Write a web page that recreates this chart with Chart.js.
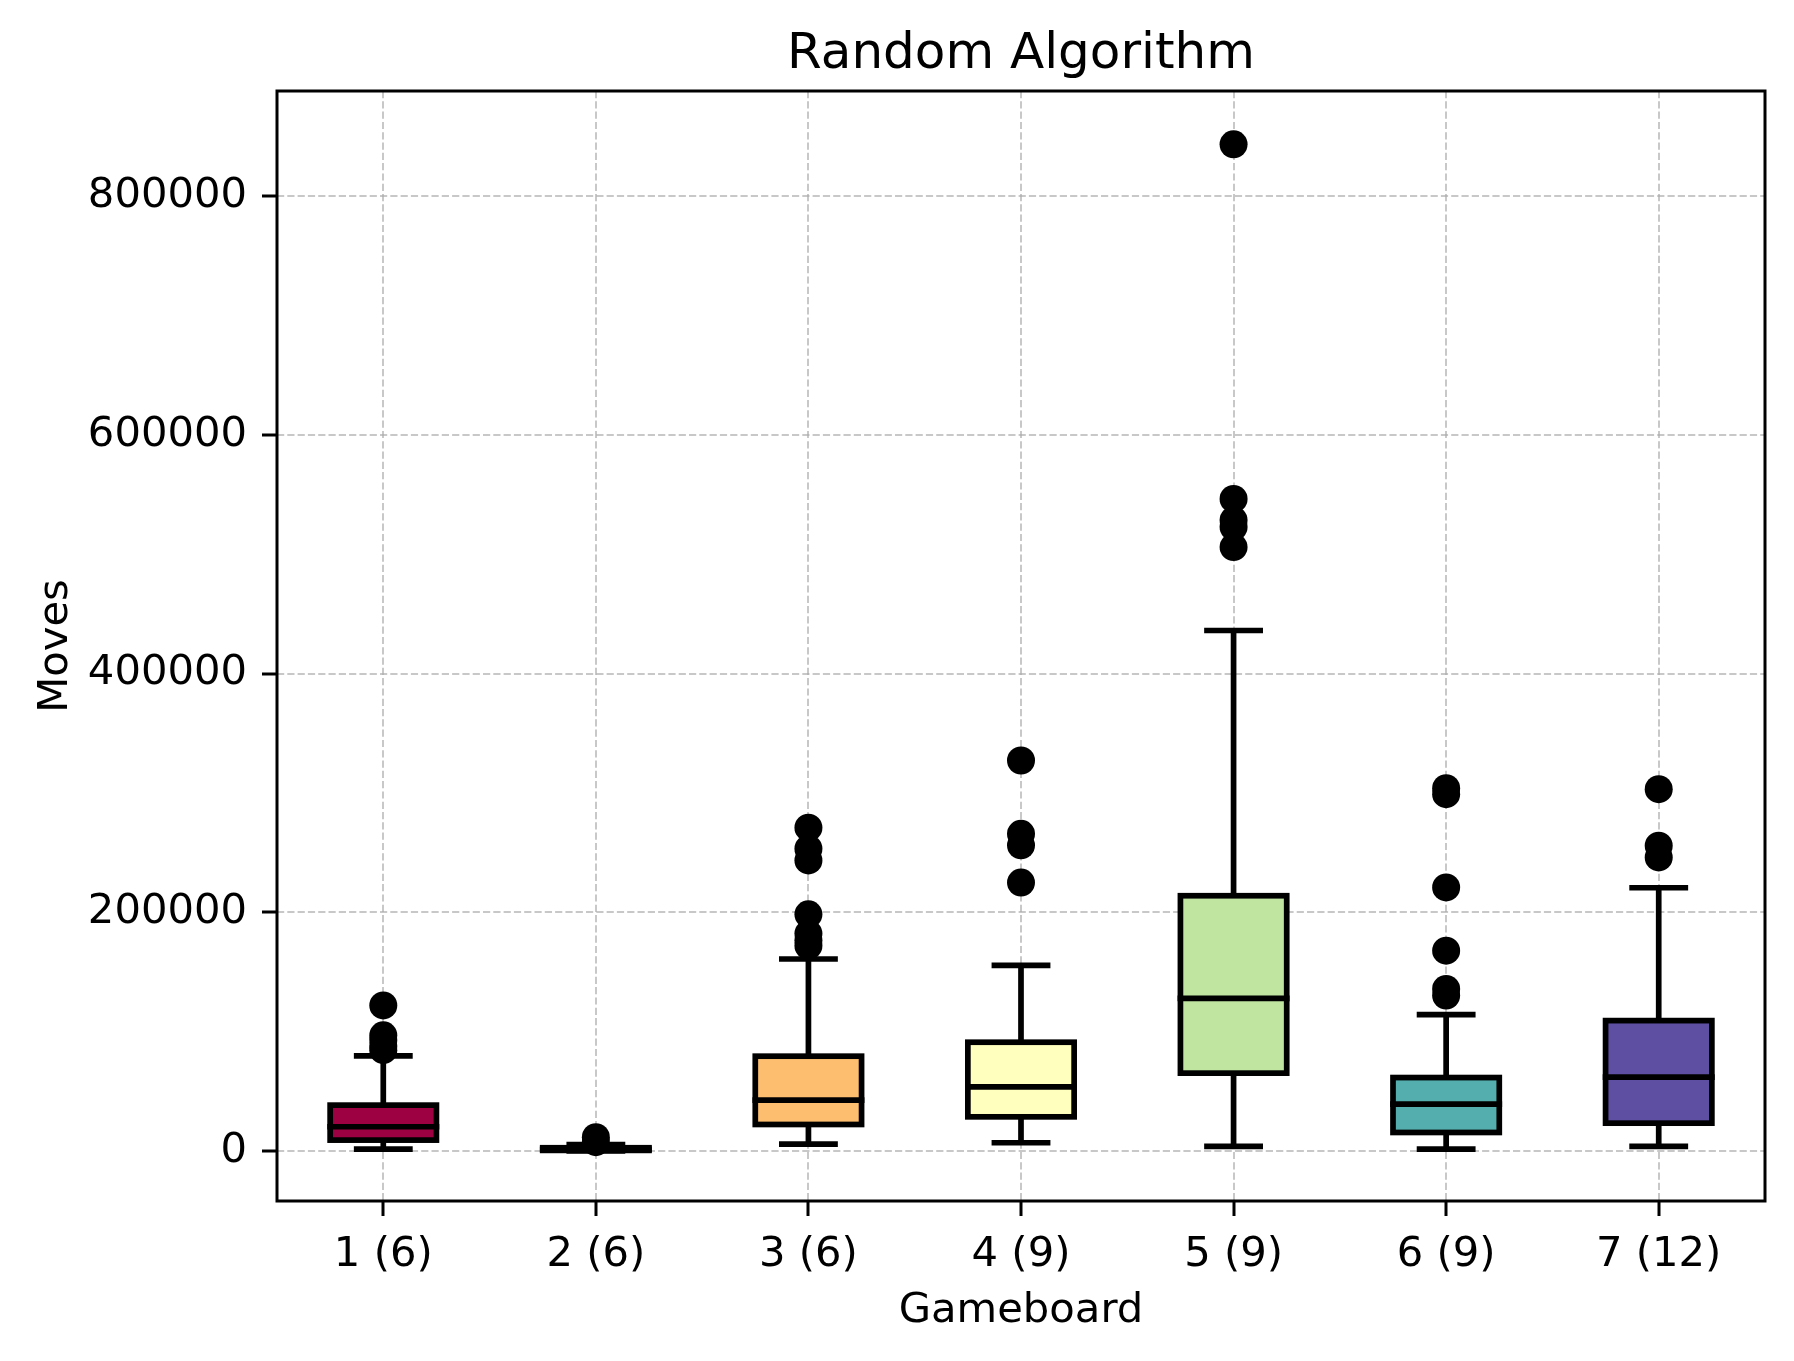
<!DOCTYPE html>
<html>
<head>
<meta charset="utf-8">
<script src="https://cdn.jsdelivr.net/npm/chart.js@4.4.1/dist/chart.umd.min.js"></script>
<style>
  html, body { margin: 0; padding: 0; background: #fff; }
  #wrap { width: 1794px; height: 1361px; }
</style>
</head>
<body>
<div id="wrap"><canvas id="boxChart" width="1794" height="1361"></canvas></div>
<script>
  // gameboard labels (number of cars in brackets)
  const boards = ["1 (6)", "2 (6)", "3 (6)", "4 (9)", "5 (9)", "6 (9)", "7 (12)"];

  // box plot stats
  const whiskerLow  = [1700,   100,   5900,   7000,   3900,   1700,   3900];
  const q1          = [9200,   600,   22300,  28700,  65300,  15600,  23400];
  const medians     = [20400,  1500,  42700,  53800,  128000, 39300,  61900];
  const q3          = [38500,  2800,  79500,  91200,  213900, 61600,  109300];
  const whiskerHigh = [79700,  5500,  160900, 155600, 436100, 114400, 220600];

  // fliers per board
  const outliers = [
    [122000, 97000, 93000, 88000, 84500],
    [11700, 7500],
    [270900, 253300, 243500, 198300, 182200, 176600, 172000],
    [327200, 265800, 256100, 224900],
    [843300, 546300, 528600, 522800, 506000],
    [304000, 299000, 220900, 167900, 135800, 130300],
    [303200, 255800, 246000]
  ];

  const boxColors = ["#9e0142", "#e95c47", "#fdbf6f", "#ffffbe", "#bfe5a0", "#54aead", "#5e4fa2"];

  const yTicks = [0, 200000, 400000, 600000, 800000];

  const LW = 5.7; // box / whisker line width

  // flatten fliers into points on the category axis
  const flierPoints = [];
  outliers.forEach((vals, i) => {
    vals.forEach(v => flierPoints.push({ x: boards[i], y: v }));
  });

  // whiskers + caps under the boxes, outline + median on top of the fill
  const boxPlotPlugin = {
    id: "boxPlot",
    afterLayout(chart) {
      // matplotlib centres the title over the axes, not the figure
      const t = chart.titleBlock;
      if (t) {
        t.left = chart.chartArea.left;
        t.right = chart.chartArea.right;
        t.width = t.right - t.left;
      }
    },
    beforeDatasetsDraw(chart) {
      const ctx = chart.ctx;
      const y = chart.scales.y;
      const meta = chart.getDatasetMeta(0);
      ctx.save();
      ctx.strokeStyle = "#000";
      ctx.lineWidth = LW;
      meta.data.forEach((bar, i) => {
        const cx = bar.x;
        const capHalf = bar.width / 4;
        ctx.lineCap = "butt";
        ctx.beginPath();
        ctx.moveTo(cx, y.getPixelForValue(q1[i]));
        ctx.lineTo(cx, y.getPixelForValue(whiskerLow[i]));
        ctx.moveTo(cx, y.getPixelForValue(q3[i]));
        ctx.lineTo(cx, y.getPixelForValue(whiskerHigh[i]));
        ctx.stroke();
        ctx.lineCap = "square";
        [whiskerLow[i], whiskerHigh[i]].forEach(v => {
          const py = y.getPixelForValue(v);
          ctx.beginPath();
          ctx.moveTo(cx - capHalf, py);
          ctx.lineTo(cx + capHalf, py);
          ctx.stroke();
        });
      });
      ctx.restore();
    },
    afterDatasetDraw(chart, args) {
      if (args.index !== 0) return;
      const ctx = chart.ctx;
      const y = chart.scales.y;
      ctx.save();
      ctx.strokeStyle = "#000";
      ctx.lineWidth = LW;
      ctx.lineJoin = "miter";
      args.meta.data.forEach((bar, i) => {
        const left = bar.x - bar.width / 2;
        const top = Math.min(bar.y, bar.base);
        const h = Math.abs(bar.base - bar.y);
        ctx.strokeRect(left, top, bar.width, h);
        const my = y.getPixelForValue(medians[i]);
        ctx.lineCap = "square";
        ctx.beginPath();
        ctx.moveTo(left, my);
        ctx.lineTo(left + bar.width, my);
        ctx.stroke();
      });
      ctx.restore();
    },
    afterDraw(chart) {
      const { ctx, chartArea: a } = chart;
      ctx.save();
      ctx.strokeStyle = "#000";
      ctx.lineWidth = 3;
      ctx.strokeRect(a.left, a.top, a.right - a.left, a.bottom - a.top);
      ctx.restore();
    }
  };

  const gridStyle = {
    color: "rgba(170,170,170,0.65)",
    lineWidth: 2,
    offset: false,
    drawTicks: true,
    tickLength: 15,
    tickColor: "#000",
    tickWidth: 3,
    tickBorderDash: []
  };
  const borderStyle = { display: false, dash: [7.2, 3.1] };

  new Chart(document.getElementById("boxChart"), {
    type: "bar",
    data: {
      labels: boards,
      datasets: [
        {
          type: "bar",
          data: q1.map((lo, i) => [lo, q3[i]]),
          backgroundColor: boxColors,
          borderWidth: 0,
          barPercentage: 0.5,
          categoryPercentage: 1,
          grouped: false,
          order: 1
        },
        {
          type: "line",
          data: flierPoints,
          showLine: false,
          pointRadius: 14,
          pointHoverRadius: 14,
          pointBackgroundColor: "#000",
          pointBorderWidth: 0,
          order: 0
        }
      ]
    },
    options: {
      responsive: false,
      devicePixelRatio: 1,
      animation: false,
      layout: { padding: { left: 0, right: 29, top: 0, bottom: 0 } },
      font: { family: "'DejaVu Sans', sans-serif" },
      plugins: {
        legend: { display: false },
        tooltip: { enabled: false },
        title: {
          display: true,
          text: "Random Algorithm",
          color: "#000",
          font: { family: "'DejaVu Sans', sans-serif", size: 50, weight: "normal", lineHeight: 1.2 },
          padding: { top: 25, bottom: 6 }
        }
      },
      scales: {
        x: {
          type: "category",
          offset: true,
          grid: gridStyle,
          border: borderStyle,
          ticks: {
            color: "#000",
            padding: 14,
            maxRotation: 0,
            font: { family: "'DejaVu Sans', sans-serif", size: 41.7 }
          },
          title: {
            display: true,
            text: "Gameboard",
            color: "#000",
            font: { family: "'DejaVu Sans', sans-serif", size: 41.7, lineHeight: 1.2 },
            padding: { top: 30, bottom: 25 }
          },
          afterFit(scale) { scale.height = 160; }
        },
        y: {
          type: "linear",
          min: -41800,
          max: 888000,
          grid: gridStyle,
          border: borderStyle,
          afterBuildTicks(scale) {
            scale.ticks = yTicks.map(v => ({ value: v }));
          },
          ticks: {
            color: "#000",
            padding: 15,
            font: { family: "'DejaVu Sans', sans-serif", size: 41.7 },
            callback: v => String(v)
          },
          title: {
            display: true,
            text: "Moves",
            color: "#000",
            font: { family: "'DejaVu Sans', sans-serif", size: 41.7, lineHeight: 1.2 },
            padding: { top: 31, bottom: 0 }
          },
          afterFit(scale) { scale.width = 277; }
        }
      }
    },
    plugins: [boxPlotPlugin]
  });
</script>
</body>
</html>
